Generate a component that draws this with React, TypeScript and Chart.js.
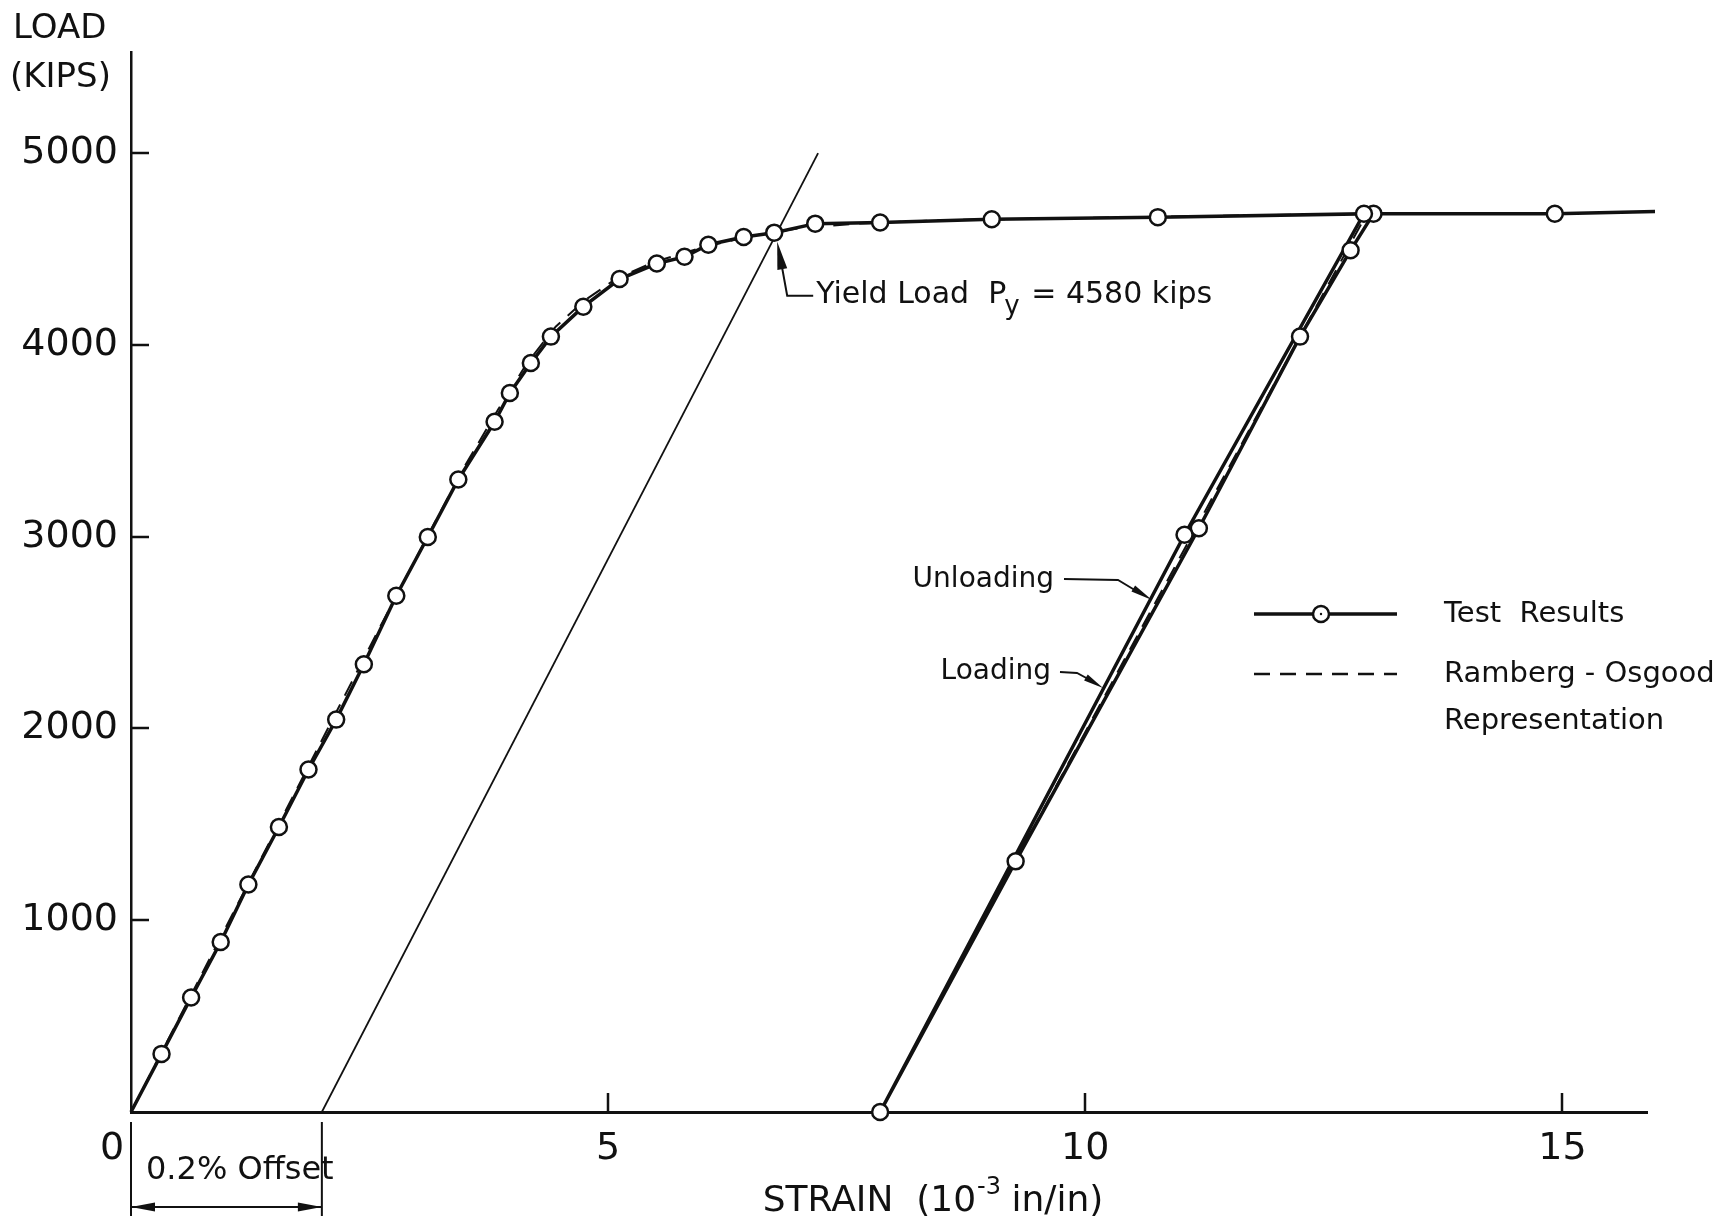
import React, { useEffect, useRef } from 'react';
import { Chart, registerables } from 'chart.js';

Chart.register(...registerables);

const FONT = '"DejaVu Sans", "Liberation Sans", sans-serif';
const INK = '#111111';

// ---- axis ticks ----
const xTickValues = [0, 5, 10, 15];
const yTickValues = [1000, 2000, 3000, 4000, 5000];

// ---- Test results: loading branch (strain 10^-3 in/in, load kips) ----
const loadingStrain = [0, 0.32, 0.63, 0.94, 1.23, 1.55, 1.86, 2.15, 2.44, 2.78, 3.11, 3.43, 3.81, 3.97, 4.19, 4.40, 4.74, 5.12, 5.51, 5.80, 6.05, 6.42, 6.74, 7.17, 7.85, 9.02, 10.76, 13.02];
const loadingLoad = [0, 303, 597, 886, 1186, 1486, 1786, 2046, 2335, 2692, 2998, 3298, 3599, 3749, 3905, 4043, 4199, 4343, 4424, 4459, 4522, 4562, 4585, 4632, 4638, 4655, 4666, 4684];

// ---- Test results: unloading branch ----
const unloadingStrain = [12.78, 12.25, 11.19, 9.27, 7.85];
const unloadingLoad = [4493, 4043, 3044, 1307, 0];

// ---- Test results: reloading branch ----
const reloadingStrain = [11.04, 12.92, 14.92, 15.97];
const reloadingLoad = [3010, 4684, 4684, 4695];

// ---- Ramberg-Osgood representation ----
const roStrain = [0, 2.6, 3.1, 3.5, 3.85, 4.15, 4.45, 4.75, 5.1, 5.5, 6.0, 6.5, 7.0, 7.6, 8.5, 10.0, 12.95, 10.4, 7.85];
const roLoad = [0, 2520, 2995, 3370, 3665, 3905, 4095, 4230, 4350, 4435, 4510, 4568, 4608, 4632, 4650, 4662, 4684, 2350, 0];

// ---- 0.2% offset line ----
const offsetStrain = [2.0, 7.2];
const offsetLoad = [0, 5000];

const pts = (xs: number[], ys: number[]) => xs.map((v, i) => ({ x: v, y: ys[i] }));

function arrowHead(ctx: CanvasRenderingContext2D, fx: number, fy: number, tx: number, ty: number, len: number, half: number) {
  const a = Math.atan2(ty - fy, tx - fx);
  const bx = tx - len * Math.cos(a);
  const by = ty - len * Math.sin(a);
  ctx.beginPath();
  ctx.moveTo(tx, ty);
  ctx.lineTo(bx + half * Math.sin(a), by - half * Math.cos(a));
  ctx.lineTo(bx - half * Math.sin(a), by + half * Math.cos(a));
  ctx.closePath();
  ctx.fill();
}

const decorations = {
  id: 'decorations',
  afterDatasetsDraw(chart: any) {
    const { ctx, chartArea: ca } = chart;
    const xs = chart.scales.x;
    const ys = chart.scales.y;
    ctx.save();
    ctx.fillStyle = INK;
    ctx.strokeStyle = INK;
    ctx.lineCap = 'butt';

    // inside tick marks
    ctx.lineWidth = 2.5;
    ctx.beginPath();
    yTickValues.forEach((v) => {
      const py = Math.round(ys.getPixelForValue(v));
      ctx.moveTo(ca.left, py);
      ctx.lineTo(ca.left + 18, py);
    });
    xTickValues.filter((v) => v > 0).forEach((v) => {
      const px = Math.round(xs.getPixelForValue(v));
      ctx.moveTo(px, ca.bottom);
      ctx.lineTo(px, ca.bottom - 19);
    });
    ctx.stroke();

    // y-axis title
    ctx.textBaseline = 'middle';
    ctx.textAlign = 'left';
    ctx.font = `34px ${FONT}`;
    ctx.fillText('LOAD', 13, 29);
    ctx.fillText('(KIPS)', 10, 78);

    // x-axis title with superscript
    const big = `36px ${FONT}`;
    const small = `24px ${FONT}`;
    const p1 = 'STRAIN  (10';
    const p2 = '-3';
    const p3 = ' in/in)';
    ctx.font = big;
    const w1 = ctx.measureText(p1).width;
    const w3 = ctx.measureText(p3).width;
    ctx.font = small;
    const w2 = ctx.measureText(p2).width;
    let tx = 933 - (w1 + w2 + w3) / 2;
    const ty = 1202;
    ctx.font = big;
    ctx.fillText(p1, tx, ty);
    tx += w1;
    ctx.font = small;
    ctx.fillText(p2, tx + 1, ty - 14);
    tx += w2;
    ctx.font = big;
    ctx.fillText(p3, tx, ty);

    // 0.2% offset dimension
    const d0 = xs.getPixelForValue(0);
    const d2 = xs.getPixelForValue(2);
    ctx.lineWidth = 2;
    ctx.beginPath();
    ctx.moveTo(d0, ca.bottom + 10);
    ctx.lineTo(d0, ca.bottom + 104);
    ctx.moveTo(d2, ca.bottom + 10);
    ctx.lineTo(d2, ca.bottom + 104);
    ctx.moveTo(d0, 1207);
    ctx.lineTo(d2, 1207);
    ctx.stroke();
    arrowHead(ctx, d0 + 30, 1207, d0, 1207, 24, 4.5);
    arrowHead(ctx, d2 - 30, 1207, d2, 1207, 24, 4.5);
    ctx.font = `32px ${FONT}`;
    ctx.fillText('0.2% Offset', 146, 1171);

    // yield load annotation
    const yx = xs.getPixelForValue(6.74);
    const yy = ys.getPixelForValue(4585);
    ctx.lineWidth = 2;
    ctx.beginPath();
    ctx.moveTo(yx + 7, yy + 30);
    ctx.lineTo(yx + 13, yy + 63);
    ctx.lineTo(yx + 39, yy + 63);
    ctx.stroke();
    arrowHead(ctx, yx + 8, yy + 36, yx + 3, yy + 9, 28, 5);
    ctx.font = `30px ${FONT}`;
    let ax = yx + 42;
    const ay = yy + 63;
    const s1 = 'Yield Load  P';
    ctx.fillText(s1, ax, ay);
    ax += ctx.measureText(s1).width;
    ctx.font = `26px ${FONT}`;
    ctx.fillText('y', ax - 2, ay + 12);
    ax += ctx.measureText('y').width;
    ctx.font = `30px ${FONT}`;
    ctx.fillText(' = 4580 kips', ax, ay);

    // Unloading / Loading labels
    ctx.font = `28px ${FONT}`;
    ctx.textAlign = 'right';
    ctx.fillText('Unloading', 1054, 580);
    ctx.fillText('Loading', 1051, 672);
    ctx.lineWidth = 1.8;
    ctx.beginPath();
    ctx.moveTo(1064, 579);
    ctx.lineTo(1118, 580);
    ctx.lineTo(1138, 592);
    ctx.moveTo(1060, 672);
    ctx.lineTo(1077, 673);
    ctx.lineTo(1090, 680);
    ctx.stroke();
    arrowHead(ctx, 1126, 584, 1152, 600, 22, 3.5);
    arrowHead(ctx, 1080, 674, 1103, 688, 20, 3.5);

    // legend
    ctx.textAlign = 'left';
    ctx.lineWidth = 3.5;
    ctx.beginPath();
    ctx.moveTo(1254, 614);
    ctx.lineTo(1397, 614);
    ctx.stroke();
    ctx.beginPath();
    ctx.arc(1321, 614, 8, 0, Math.PI * 2);
    ctx.fillStyle = '#ffffff';
    ctx.fill();
    ctx.lineWidth = 2.5;
    ctx.stroke();
    ctx.fillStyle = INK;
    ctx.beginPath();
    ctx.arc(1321, 614, 1.2, 0, Math.PI * 2);
    ctx.fill();
    ctx.lineWidth = 2.5;
    ctx.setLineDash([16, 10]);
    ctx.beginPath();
    ctx.moveTo(1254, 674);
    ctx.lineTo(1397, 674);
    ctx.stroke();
    ctx.setLineDash([]);
    ctx.font = `29px ${FONT}`;
    ctx.fillText('Test  Results', 1444, 614);
    ctx.fillText('Ramberg - Osgood', 1444, 674);
    ctx.fillText('Representation', 1444, 721);

    ctx.restore();
  },
};

export default function App() {
  const canvasRef = useRef<HTMLCanvasElement | null>(null);

  useEffect(() => {
    const canvas = canvasRef.current;
    if (!canvas) return;

    const testData = [
      ...pts(loadingStrain, loadingLoad),
      ...pts(unloadingStrain, unloadingLoad),
      ...pts(reloadingStrain, reloadingLoad),
    ];
    const radii = testData.map((_, i) => (i === 0 || i === testData.length - 1 ? 0 : 8));

    const chart = new Chart(canvas, {
      type: 'line',
      data: {
        datasets: [
          {
            label: 'Test Results',
            data: testData,
            borderColor: INK,
            borderWidth: 3.5,
            pointRadius: radii,
            pointBackgroundColor: '#ffffff',
            pointBorderColor: INK,
            pointBorderWidth: 2.5,
            tension: 0,
            fill: false,
            clip: false as any,
            order: 0,
          },
          {
            label: 'Ramberg - Osgood Representation',
            data: pts(roStrain, roLoad),
            borderColor: INK,
            borderWidth: 2,
            borderDash: [16, 10],
            pointRadius: 0,
            tension: 0,
            fill: false,
            order: 1,
          },
          {
            label: '0.2% Offset',
            data: pts(offsetStrain, offsetLoad),
            borderColor: INK,
            borderWidth: 1.8,
            pointRadius: 0,
            tension: 0,
            fill: false,
            order: 2,
          },
        ],
      },
      options: {
        responsive: false,
        animation: false,
        devicePixelRatio: 1,
        events: [],
        parsing: false as any,
        layout: { padding: { left: 0, top: 52, right: 89, bottom: 0 } },
        plugins: {
          legend: { display: false },
          tooltip: { enabled: false },
        },
        scales: {
          x: {
            type: 'linear',
            min: 0,
            max: 15.886,
            afterBuildTicks: (s: any) => {
              s.ticks = xTickValues.map((v) => ({ value: v }));
            },
            afterFit: (s: any) => {
              s.height = 111;
            },
            grid: { display: false, drawTicks: false, tickLength: 0 },
            border: { display: true, color: INK, width: 3 },
            ticks: {
              padding: 14,
              color: INK,
              font: { family: FONT, size: 38 },
              maxRotation: 0,
              autoSkip: false,
              callback: (v: any) => (Number(v) === 0 ? '0\u2002\u2002' : String(v)),
            },
          },
          y: {
            type: 'linear',
            min: 0,
            max: 5527,
            afterBuildTicks: (s: any) => {
              s.ticks = yTickValues.map((v) => ({ value: v }));
            },
            afterFit: (s: any) => {
              s.width = 131;
            },
            grid: { display: false, drawTicks: false, tickLength: 0 },
            border: { display: true, color: INK, width: 2.5 },
            ticks: {
              padding: 13,
              color: INK,
              font: { family: FONT, size: 38 },
              autoSkip: false,
              callback: (v: any) => String(v),
            },
          },
        },
      },
      plugins: [decorations],
    } as any);

    return () => chart.destroy();
  }, []);

  return (
    <div style={{ position: 'fixed', left: 0, top: 0, width: 1736, height: 1223, background: '#ffffff' }}>
      <canvas ref={canvasRef} width={1736} height={1223} style={{ display: 'block', width: 1736, height: 1223 }} />
    </div>
  );
}
